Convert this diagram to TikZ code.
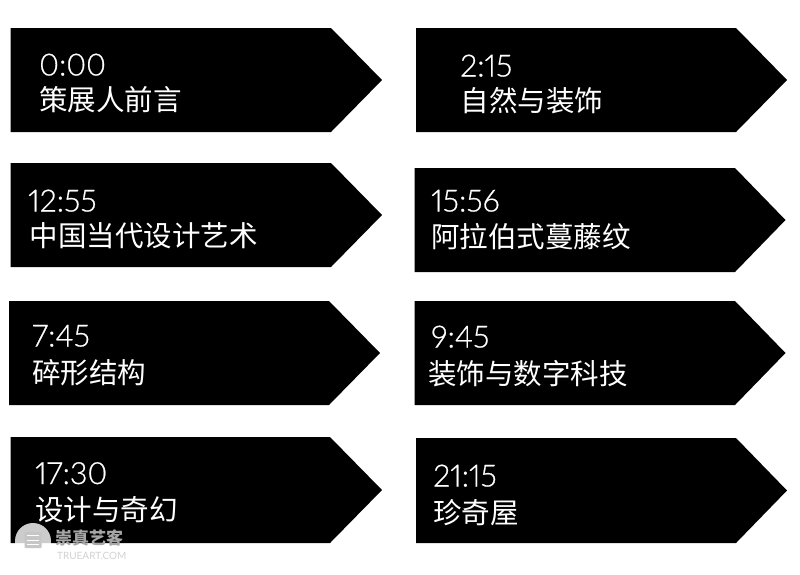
\documentclass[tikz,border=0pt]{standalone}
\usepackage{fontspec}
\setmainfont{Lato}
\newfontfamily\cjk{Noto Sans CJK SC}
\newfontfamily\num[Numbers=Proportional,FakeBold=0.6]{Lato Light}
\tikzset{x=1pt,y=-1pt,
  tagshape/.style={fill=black,draw=none},
  timetext/.style={text=white,anchor=base west,inner sep=0pt,font=\num\fontsize{30.5}{31}\selectfont},
  titletext/.style={text=white,anchor=base west,inner sep=0pt,font=\cjk\fontsize{28.5}{29}\selectfont}}
% name, left, top, bottom, shoulder, tip, time x, time base, time
\newcommand{\tagbox}[9]{%
  \path[tagshape] (#2,#3) -- (#5,#3) -- (#6,{(#3+#4)/2}) -- (#5,#4) -- (#2,#4) -- cycle;
  \node[timetext] (#1t) at (#7,#8) {#9};}
\newcommand{\tagtitle}[4]{\node[titletext] (#1n) at (#2,#3) {#4};}
\begin{document}
\begin{tikzpicture}
\useasboundingbox (0,0) rectangle (800,574);
\fill[white] (0,0) rectangle (800,574);
\tagbox{a}{10.5}{28}{132}{331}{382}{39}{75.5}{0:00}
\tagtitle{a}{39}{110.5}{策展人前言}
\tagbox{b}{10.5}{163}{267}{331}{382}{28}{211.5}{12:55}
\tagtitle{b}{29.5}{246.5}{中国当代设计艺术}
\tagbox{c}{9}{301}{405}{329}{380}{32}{346.5}{7:45}
\tagtitle{c}{32}{383.5}{碎形结构}
\tagbox{d}{10.5}{437}{543}{330}{382}{35}{484}{17:30}
\tagtitle{d}{35}{520}{设计与奇幻}
\tagbox{e}{416}{28}{132}{736}{787}{460}{76.5}{2:15}
\tagtitle{e}{460.5}{111.5}{自然与装饰}
\tagbox{f}{414.5}{168}{272}{735}{785.5}{431}{211.5}{15:56}
\tagtitle{f}{431}{247.5}{阿拉伯式蔓藤纹}
\tagbox{g}{414.5}{301}{405}{735}{785.5}{431}{347.5}{9:45}
\tagtitle{g}{428}{384}{装饰与数字科技}
\tagbox{h}{416}{438}{543}{736}{787}{433}{486.5}{21:15}
\tagtitle{h}{433}{523.5}{珍奇屋}
% watermark
\node[circle,fill=white,opacity=.8,minimum size=36pt,inner sep=0pt] (wm) at (33,541) {};
\node[fill=gray!45,minimum width=17pt,minimum height=16pt,inner sep=0pt,rounded corners=1pt] (wmi) at (33,540) {};
\draw[white,line width=1pt] ([xshift=3pt,yshift=-4pt]wmi.north west) -- ([xshift=-3pt,yshift=-4pt]wmi.north east);
\draw[white,line width=1pt] ([xshift=3pt]wmi.west) -- ([xshift=-3pt]wmi.east);
\draw[white,line width=1pt] ([xshift=3pt,yshift=4pt]wmi.south west) -- ([xshift=-3pt,yshift=4pt]wmi.south east);
\node[anchor=base west,inner sep=0pt,text=gray!70,font=\cjk\bfseries\fontsize{17}{17}\selectfont] (wmt) at (55,544) {崇真艺客};
\node[anchor=base west,inner sep=0pt,text=gray!35,font=\fontsize{10}{10}\selectfont] (wmu) at (57,559) {TRUEART.COM};
\end{tikzpicture}
\end{document}
